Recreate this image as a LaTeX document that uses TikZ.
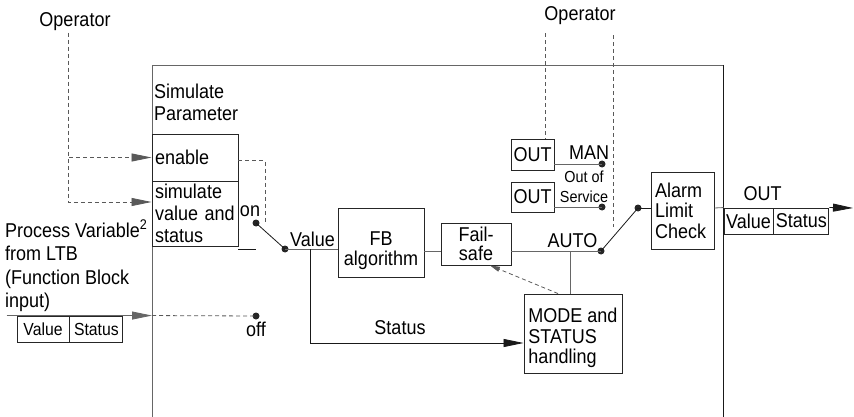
\documentclass[tikz,border=0pt]{standalone}
\usepackage{fontspec}
\setmainfont{Liberation Sans}[FakeStretch=0.9]
\usetikzlibrary{positioning, calc, arrows.meta}

\begin{document}
\begin{tikzpicture}[
    x=1pt, y=-1pt,
    every node/.style={font=\fontsize{20}{21.5}\selectfont, inner sep=2pt},
    box/.style={draw=black!85, line width=0.9pt, inner sep=1pt},
    lbox/.style={box, align=left},
    cbox/.style={box, align=center},
    txt/.style={align=left},
    small/.style={font=\fontsize{16}{19.5}\selectfont, align=center},
    dot/.style={circle, fill=black!85, inner sep=0pt, minimum size=7pt},
    wire/.style={draw=black!60, line width=0.8pt},
    sw/.style={draw=black!90, line width=0.8pt},
    dline/.style={draw=black!65, line width=0.8pt, dash pattern=on 4pt off 3pt},
    arr/.style={-{Triangle[length=20pt,width=8pt]}},
    sarr/.style={-{Triangle[length=10pt,width=5pt]}}
  ]
  \useasboundingbox (0,0) rectangle (854,417);
  \coordinate (ftl) at (152,65);
  \coordinate (ftr) at (723,65);
  \draw[wire] (ftl |- 0,417) -- (ftl) -- (ftr);
  \draw[sw] (ftr) -- (ftr |- 0,417);

  \node (opl) at (75,21.5) {Operator};
  \node (opr) at (580,16) {Operator};

  \node[txt, anchor=west] (simpar) at (152,102.5) {Simulate\\Parameter};
  \node[lbox, inner xsep=3pt, text width=80pt, minimum height=47pt] (enable) at (195,157.5) {enable};
  \node[lbox, inner xsep=3pt, text width=80pt, minimum height=65pt,
        font=\fontsize{20}{22}\selectfont] (simval) at (195,213.5) {simulate\\value and\\status};

  \node[txt, anchor=north west, inner sep=0pt, font=\fontsize{20}{23.3}\selectfont] (pvtxt) at (5,220)
    {Process Variable\textsuperscript{2}\\from LTB\\(Function Block\\input)};
  \node[box, minimum width=52pt, minimum height=26pt, font=\fontsize{17.5}{18}\selectfont] (inval) at (43,329) {Value};
  \node[box, minimum width=53pt, minimum height=26pt, font=\fontsize{17.5}{18}\selectfont, right=0pt of inval] (instat) {Status};

  \node[dot] (ondot) at (256,223) {};
  \node[dot] (vdot) at (285,249) {};
  \node[dot] (offdot) at (256,316) {};
  \node (ontxt) at (250,211) {on};
  \node[below=0pt of offdot] (offtxt) {off};
  \node (valtxt) at (312.5,239.5) {Value};
  \coordinate (stsplit) at (310,249);

  \node[box, minimum width=86pt, minimum height=69pt,
        label={[align=center, yshift=-8pt, font=\fontsize{20}{20.3}\selectfont]center:FB\\algorithm}] (fb) at (381,243) {};
  \node[cbox, minimum width=70pt, minimum height=42pt, font=\fontsize{20}{19}\selectfont] (fail) at (476,244) {Fail-\\safe};
  \node[box, minimum width=98pt, minimum height=79pt,
        label={[align=left, yshift=-4.5pt, font=\fontsize{20}{20.5}\selectfont]center:MODE and\\STATUS\\handling}] (mode) at (573,333.5) {};
  \node (sttxt) at (400,327.6) {Status};

  \node[box, minimum width=43pt, minimum height=31pt] (outman) at (532.5,154.5) {OUT};
  \node[box, minimum width=43pt, minimum height=30pt] (outoos) at (532.5,197) {OUT};
  \node (mantxt) at (589,153) {MAN};
  \node[small] (oostxt) at (584,187) {Out of\\Service};
  \node (autotxt) at (572.5,240.3) {AUTO};
  \node[dot] (mandot) at (602,164) {};
  \node[dot] (oosdot) at (602,207) {};
  \node[dot] (autodot) at (601,251) {};
  \node[dot] (aldot) at (638,208) {};
  \coordinate (autosplit) at (570,251);
  \coordinate (manend) at (613,227);

  \node[lbox, inner xsep=4pt, text width=55pt, minimum height=77pt,
        font=\fontsize{20}{20.5}\selectfont] (alarm) at (682.5,210.5) {Alarm\\Limit\\Check};
  \node[box, minimum width=49pt, minimum height=26pt] (outval) at (748.5,221) {Value};
  \node[box, minimum width=55pt, minimum height=26pt, right=0pt of outval] (outstat) {Status};
  \node (outtxt) at (762.5,193.3) {OUT};
  \coordinate (outend) at (853,208);

  \draw[dline, arr] ([xshift=-7pt]opl.south) |- (enable.west);
  \draw[dline, arr] ([xshift=-7pt]opl.south) |- ([yshift=11.5pt]simval.west);
  \draw[dline] ([yshift=-3pt]enable.east) -| ([xshift=9pt]ondot.center);
  \draw[sw] ([yshift=-3pt]simval.south east) -- ++(18,0);
  \draw[sw] (ondot.center) -- (vdot.center);
  \draw[wire, arr] ([xshift=-10pt]inval.north west) -- (inval.north west -| ftl);
  \draw[dline] (inval.north west -| ftl) -- (offdot.center);

  \draw[wire] (vdot.center) -- (vdot -| fb.west);
  \draw[sw, arr] (stsplit) |- ([yshift=-9.5pt]mode.west);
  \draw[wire] (fb.east |- autodot) -- (fail.west |- autodot);
  \draw[wire] (fail.east |- autodot) -- (autodot.center);
  \draw[wire] (autosplit) -- (autosplit |- mode.north);
  \draw[dline, sarr] ([xshift=-15pt]mode.north) -- ([xshift=14pt]fail.south);

  \draw[dline] ([xshift=-35pt,yshift=-6pt]opr.south) -- ([xshift=-35pt]opr.south |- outman.north);
  \draw[dline] ([xshift=33pt,yshift=-8pt]opr.south) -- (manend);
  \draw[wire] (outman.east |- mandot) -- (mandot.center);
  \draw[wire] (outoos.east |- oosdot) -- (oosdot.center);
  \draw[sw] (autodot.center) -- (aldot.center);
  \draw[sw] (aldot.center) -- (aldot -| alarm.west);
  \draw[wire] (aldot -| alarm.east) -- (outval.north west);
  \draw[sw, arr] (outstat.north east) -- (outend);
\end{tikzpicture}
\end{document}
